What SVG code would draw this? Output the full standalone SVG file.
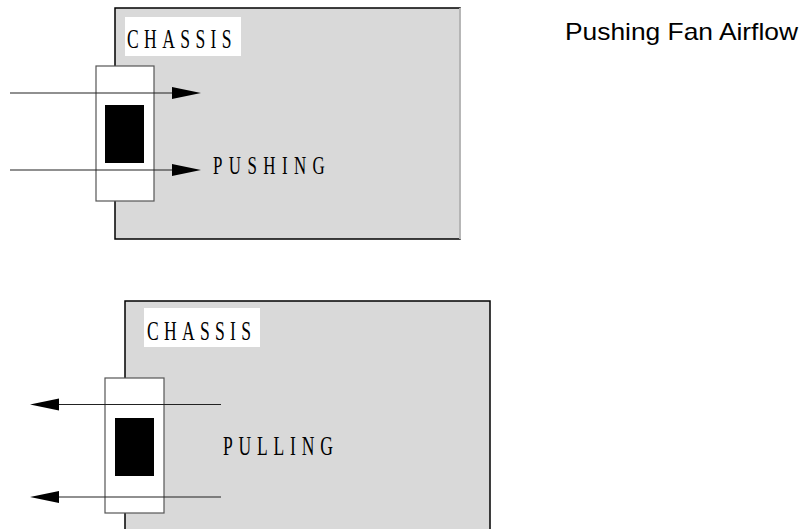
<svg xmlns="http://www.w3.org/2000/svg" width="806" height="529" viewBox="0 0 806 529">
<style>
.chassis{fill:#d9d9d9;stroke:#000;stroke-width:1.5}
.fan{fill:#fff;stroke:#555;stroke-width:1.2}
.blade{fill:#000}
.lbl{fill:#fff}
.serif{font-family:"Liberation Serif","Times New Roman",serif;fill:#000}
.flow{stroke:#222;stroke-width:1.2;fill:none}
.head{fill:#000}
</style>
<rect width="806" height="529" fill="#fff"/>
<g id="chassis-top">
<rect class="chassis" x="115" y="8" width="345" height="231"/>
<line x1="460" y1="8" x2="460" y2="239" stroke="#e0e0e0" stroke-width="1.5"/>
<rect class="lbl" x="125" y="17" width="116" height="39"/>
<text class="serif" font-size="27" transform="translate(127,48) scale(0.65,1)" textLength="161" lengthAdjust="spacing">CHASSIS</text>
</g>
<g id="fan-top">
<rect class="fan" x="96" y="66" width="58" height="135"/>
<rect class="blade" x="105" y="105" width="39" height="58"/>
</g>
<g id="label-pushing">
<text class="serif" font-size="26" transform="translate(213,174) scale(0.65,1)" textLength="172" lengthAdjust="spacing">PUSHING</text>
</g>
<g id="chassis-bottom">
<rect class="chassis" x="125" y="301" width="365" height="240"/>
<rect class="lbl" x="144" y="308" width="116" height="39"/>
<text class="serif" font-size="27" transform="translate(147,340) scale(0.65,1)" textLength="160" lengthAdjust="spacing">CHASSIS</text>
</g>
<g id="fan-bottom">
<rect class="fan" x="105" y="378" width="59" height="135"/>
<rect class="blade" x="115" y="418" width="39" height="58"/>
</g>
<g id="label-pulling">
<text class="serif" font-size="27" transform="translate(223,455) scale(0.65,1)" textLength="169" lengthAdjust="spacing">PULLING</text>
</g>
<g id="title">
<text x="565" y="40" font-family="'Liberation Sans',Arial,sans-serif" font-size="24" textLength="233" lengthAdjust="spacingAndGlyphs">Pushing Fan Airflow</text>
</g>
<g id="connectors">
<line class="flow" x1="10" y1="93" x2="174" y2="93" stroke="#666"/>
<polygon class="head" points="172,87 201,93 172,99"/>
<line class="flow" x1="10" y1="170" x2="174" y2="170"/>
<polygon class="head" points="172,164 201,170 172,176"/>
<line class="flow" x1="221" y1="404.5" x2="57" y2="404.5"/>
<polygon class="head" points="59,398.5 30,404.5 59,410.5"/>
<line class="flow" x1="221" y1="497" x2="57" y2="497" stroke="#555"/>
<polygon class="head" points="59,491 30,497 59,503"/>
</g>
</svg>
